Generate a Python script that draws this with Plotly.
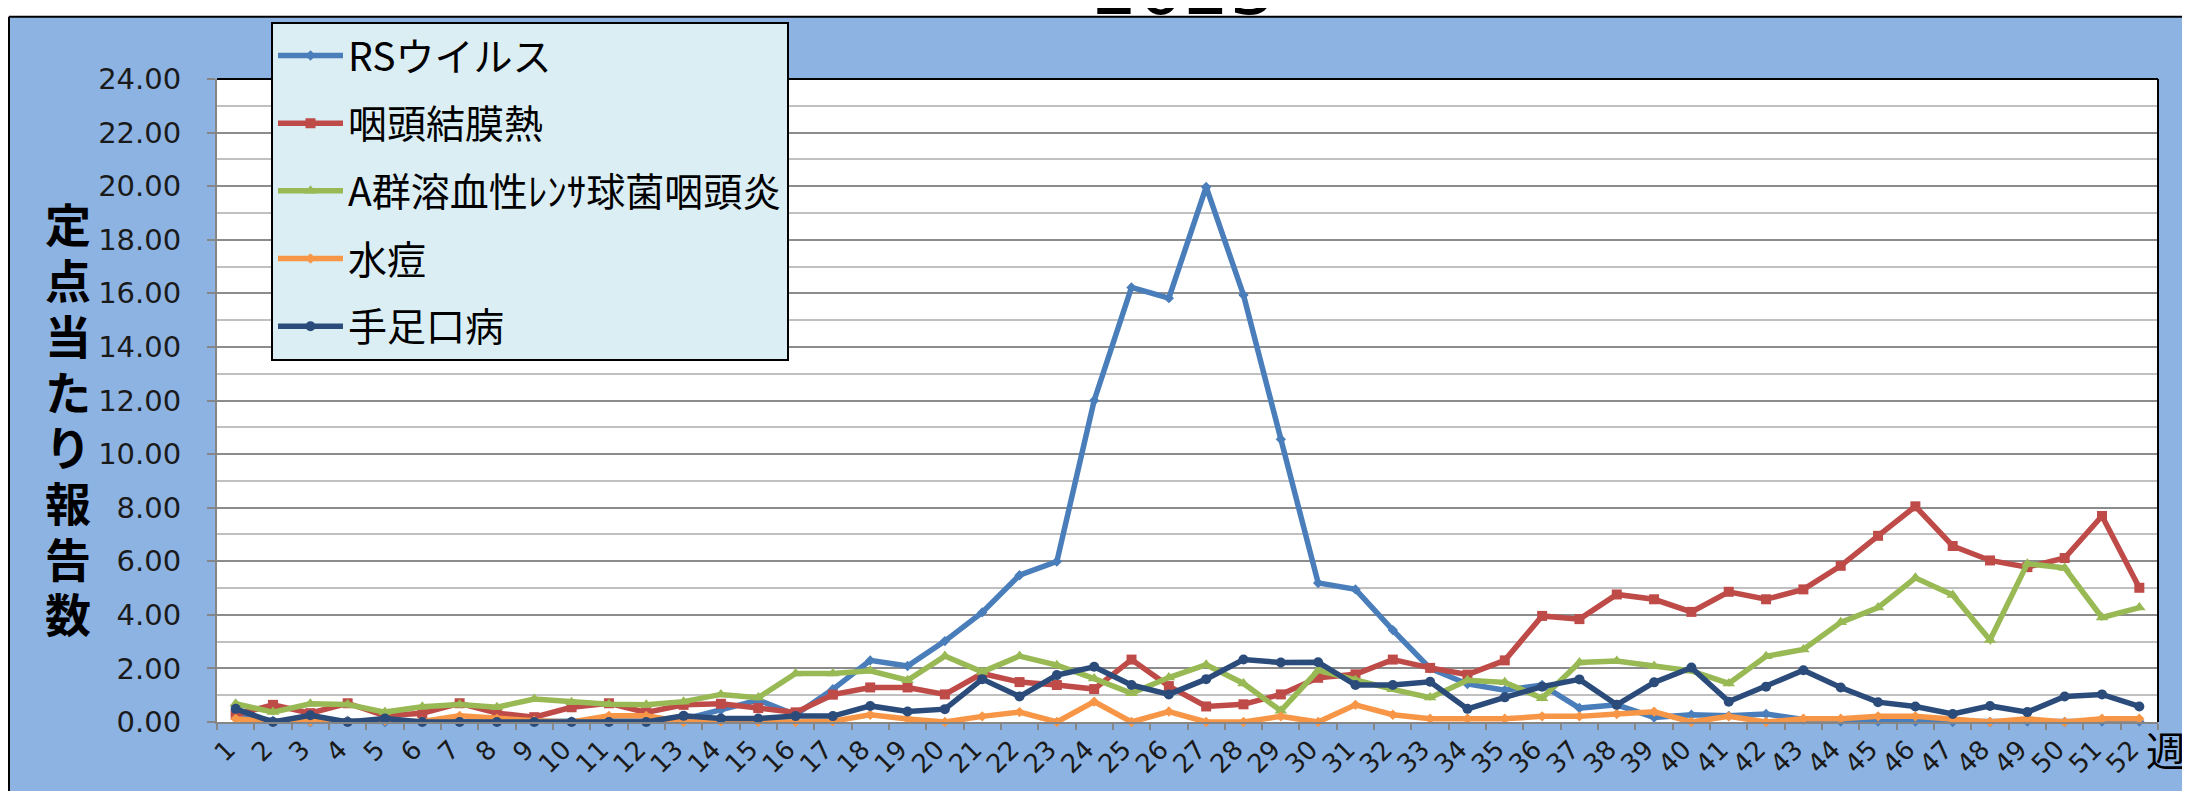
import plotly.graph_objects as go

weeks = [str(i) for i in range(1, 53)]

rs_virus = [0.30, 0.05, 0.00, 0.05, 0.00, 0.02, 0.02, 0.02, 0.02, 0.02, 0.05, 0.05, 0.10,
            0.45, 0.82, 0.27, 1.22, 2.30, 2.09, 3.02, 4.09, 5.48, 5.99, 12.00, 16.22, 15.82,
            19.97, 15.94, 10.55, 5.19, 4.95, 3.43, 2.00, 1.42, 1.19, 1.38, 0.52, 0.64, 0.17,
            0.27, 0.23, 0.30, 0.09, 0.02, 0.02, 0.02, 0.00, 0.00, 0.02, 0.00, 0.02, 0.02]

pharyngoconj = [0.27, 0.64, 0.33, 0.70, 0.23, 0.33, 0.70, 0.33, 0.18, 0.55, 0.70, 0.36, 0.64,
                0.68, 0.52, 0.36, 1.02, 1.29, 1.29, 1.03, 1.81, 1.49, 1.38, 1.23, 2.33, 1.34,
                0.58, 0.66, 1.03, 1.65, 1.78, 2.33, 2.02, 1.77, 2.30, 3.96, 3.84, 4.76, 4.58,
                4.11, 4.86, 4.58, 4.95, 5.83, 6.95, 8.05, 6.57, 6.03, 5.78, 6.12, 7.69, 5.01]

strep_a = [0.68, 0.37, 0.68, 0.65, 0.37, 0.57, 0.65, 0.55, 0.86, 0.74, 0.66, 0.64, 0.76,
           1.03, 0.91, 1.81, 1.81, 1.91, 1.56, 2.46, 1.87, 2.46, 2.12, 1.62, 1.07, 1.66,
           2.14, 1.44, 0.42, 1.93, 1.56, 1.22, 0.91, 1.56, 1.48, 0.89, 2.22, 2.28, 2.09,
           1.91, 1.44, 2.45, 2.71, 3.72, 4.27, 5.38, 4.74, 3.06, 5.91, 5.75, 3.90, 4.27]

varicella = [0.12, 0.00, 0.02, 0.02, 0.05, 0.02, 0.23, 0.12, 0.05, 0.00, 0.23, 0.23, 0.00,
             0.02, 0.00, 0.00, 0.03, 0.27, 0.11, 0.00, 0.21, 0.37, 0.00, 0.76, 0.00, 0.39,
             0.00, 0.00, 0.21, 0.00, 0.64, 0.27, 0.12, 0.12, 0.12, 0.21, 0.21, 0.30, 0.38,
             0.00, 0.21, 0.00, 0.12, 0.12, 0.21, 0.21, 0.12, 0.00, 0.12, 0.00, 0.12, 0.12]

hfmd = [0.49, 0.00, 0.25, 0.00, 0.13, 0.00, 0.00, 0.00, 0.00, 0.00, 0.00, 0.00, 0.23,
        0.13, 0.13, 0.22, 0.22, 0.60, 0.39, 0.48, 1.60, 0.95, 1.75, 2.06, 1.38, 1.03,
        1.60, 2.33, 2.22, 2.23, 1.38, 1.38, 1.50, 0.49, 0.92, 1.32, 1.59, 0.64, 1.48,
        2.03, 0.76, 1.32, 1.93, 1.29, 0.74, 0.58, 0.30, 0.60, 0.37, 0.95, 1.03, 0.58]

series_names = ["RSウイルス", "咽頭結膜熱", "A群溶血性ﾚﾝｻ球菌咽頭炎", "水痘", "手足口病"]
series_values = [rs_virus, pharyngoconj, strep_a, varicella, hfmd]
series_colors = ["#4A7EBB", "#BE4B48", "#98B954", "#F79646", "#2B4C7A"]
series_symbols = ["diamond", "square", "triangle-up", "diamond", "circle"]
series_msize = [8, 10, 11, 8, 10]

y_tick_vals = list(range(0, 25, 2))
title_text = "2023"
y_title = "定点当たり報告数"
x_title = "週"

# The page body has an 8px default margin; the figure is sized/positioned to compensate.
OFF = 8
SW, SH = 2190, 791                     # screen size
W, H = SW - OFF, SH - OFF              # figure size
PL, PR, PT, PB = 217, 2158, 79, 729    # plot area in screen pixels
L, R, T, B = PL - OFF, SW - PR, PT - OFF, SH - PB
PW, PH = W - L - R, H - T - B


def px_x(sx):
    return (sx - PL) / PW


def px_y(sy):
    return (PB - sy) / PH


fig = go.Figure()
for i, (name, vals, col, sym, ms) in enumerate(zip(series_names, series_values, series_colors,
                                                    series_symbols, series_msize)):
    fig.add_trace(go.Scatter(
        x=weeks, y=vals, name=name, mode="lines+markers",
        line=dict(color=col, width=5.5),
        marker=dict(symbol=sym, size=ms, color=col),
        legendgroup="g%d" % i,
        cliponaxis=False,
    ))

jp_font = "Noto Sans CJK JP"
num_font = "DejaVu Sans"

annotations = [
    dict(text=title_text, xref="paper", yref="paper", x=px_x(1183), y=px_y(32),
         xanchor="center", yanchor="bottom", showarrow=False,
         font=dict(family=num_font, size=72, color="#000000")),
    dict(text=x_title, xref="paper", yref="paper", x=px_x(2188), y=px_y(756),
         xanchor="right", yanchor="middle", showarrow=False,
         font=dict(family=jp_font, size=40, color="#000000")),
]
for k, ch in enumerate(y_title):
    annotations.append(dict(
        text=ch, xref="paper", yref="paper", x=px_x(68), y=px_y(224 + k * 56.3),
        xanchor="center", yanchor="middle", showarrow=False, height=52, width=52,
        font=dict(family=jp_font, size=46, color="#000000", weight="bold")))

fig.update_layout(
    width=W, height=H,
    margin=dict(l=L, r=R, t=T, b=B, pad=0),
    paper_bgcolor="#8DB3E2",
    plot_bgcolor="#FFFFFF",
    showlegend=True,
    legend=dict(
        x=px_x(271), y=px_y(21), xanchor="left", yanchor="top",
        bgcolor="#DBEEF4", bordercolor="#000000", borderwidth=2,
        font=dict(family=jp_font, size=39, color="#000000"),
        tracegroupgap=14, itemwidth=65,
    ),
    xaxis=dict(
        type="category", range=[-0.5, 51.5],
        showgrid=False, showline=True, linecolor="#868686", linewidth=2,
        ticks="outside", tickson="boundaries", ticklen=6, tickcolor="#868686", tickwidth=1.5,
        tickangle=-45,
        tickfont=dict(family=num_font, size=26, color="#1A1A1A"),
        ticklabelshift=-8,
        zeroline=False,
    ),
    yaxis=dict(
        range=[0, 24], tickvals=y_tick_vals, tickformat=".2f",
        showgrid=True, gridcolor="#8C8C8C", gridwidth=1.5,
        minor=dict(dtick=1, showgrid=True, gridcolor="#C0C0C0", gridwidth=1.5, ticks=""),
        showline=True, linecolor="#868686", linewidth=2,
        ticks="outside", ticklen=8, tickcolor="#868686", tickwidth=1.5,
        tickfont=dict(family=num_font, size=29, color="#1A1A1A"),
        ticklabelstandoff=20,
        zeroline=False,
    ),
    shapes=[
        # white strips outside the blue chart frame (top and left)
        dict(type="rect", xref="paper", yref="paper", layer="below",
             x0=px_x(-40), x1=px_x(SW + 40), y0=px_y(16), y1=px_y(-40),
             fillcolor="#FFFFFF", line=dict(width=0)),
        dict(type="rect", xref="paper", yref="paper", layer="below",
             x0=px_x(-40), x1=px_x(9), y0=px_y(SH + 40), y1=px_y(16),
             fillcolor="#FFFFFF", line=dict(width=0)),
        # frame border lines
        dict(type="line", xref="paper", yref="paper", layer="below",
             x0=px_x(9), x1=px_x(SW + 40), y0=px_y(16), y1=px_y(16),
             line=dict(color="#000000", width=2)),
        dict(type="line", xref="paper", yref="paper", layer="below",
             x0=px_x(9), x1=px_x(9), y0=px_y(16), y1=px_y(SH + 40),
             line=dict(color="#000000", width=2)),
        # plot area top / right border
        dict(type="line", xref="paper", yref="paper", layer="above",
             x0=0, x1=1, y0=1, y1=1, line=dict(color="#000000", width=2)),
        dict(type="line", xref="paper", yref="paper", layer="above",
             x0=1, x1=1, y0=0, y1=1, line=dict(color="#000000", width=2)),
    ],
    annotations=annotations,
)

fig.write_html("out.html")
